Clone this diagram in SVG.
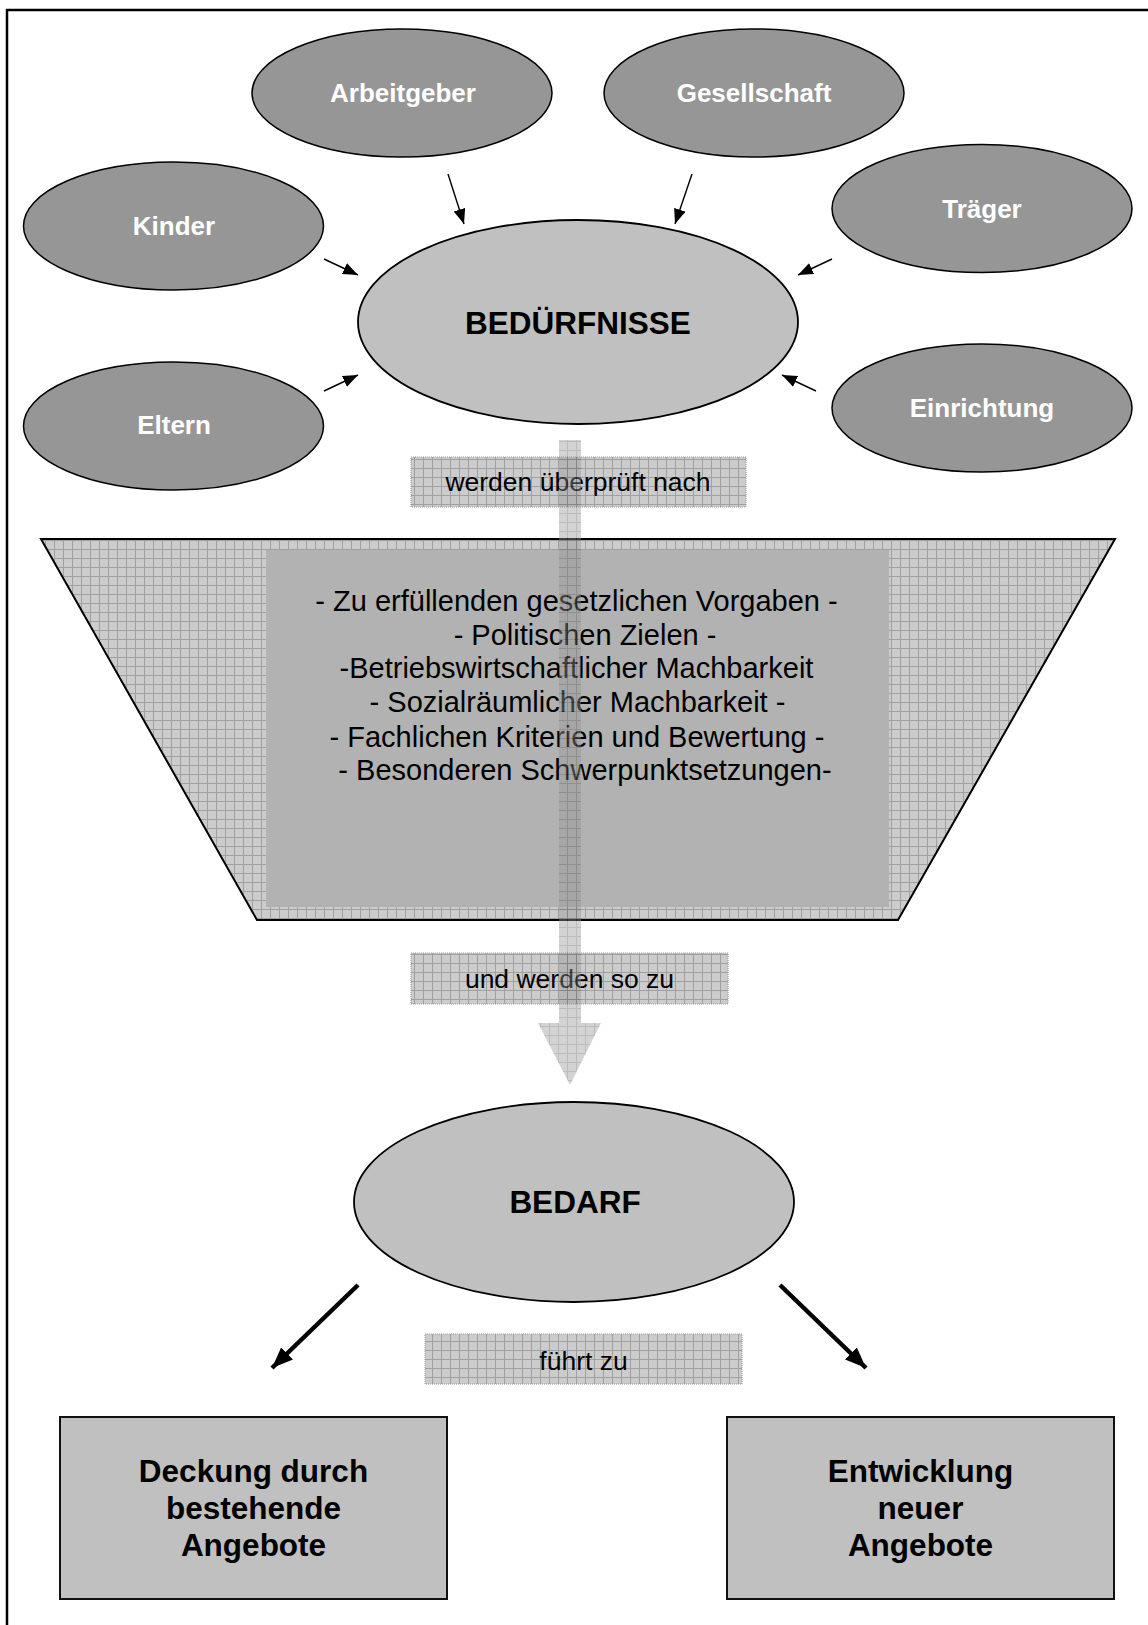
<svg xmlns="http://www.w3.org/2000/svg" width="1148" height="1625" viewBox="0 0 1148 1625">
  <defs>
    <pattern id="grid" width="9" height="9" patternUnits="userSpaceOnUse">
      <rect width="9" height="9" fill="#cccccc"/>
      <path d="M0 0.5H9M0.5 0V9" stroke="#a0a0a0" stroke-width="1" fill="none"/>
    </pattern>
    <pattern id="gridDark" width="9" height="9" patternUnits="userSpaceOnUse">
      <rect width="9" height="9" fill="#969696"/>
      <path d="M0 0.5H9M0.5 0V9" stroke="#5f5f5f" stroke-width="1" fill="none"/>
    </pattern>
    <marker id="headThin" markerUnits="userSpaceOnUse" markerWidth="16" markerHeight="13" refX="15" refY="6" orient="auto">
      <path d="M0,0 L15,6 L0,12 z" fill="#000"/>
    </marker>
    <marker id="headThick" markerUnits="userSpaceOnUse" markerWidth="22" markerHeight="18" refX="21" refY="8.5" orient="auto">
      <path d="M0,0 L21,8.5 L0,17 z" fill="#000"/>
    </marker>
  </defs>
  <style>
    .src { fill: #969696; stroke: #000; stroke-width: 1.5; }
    .main { fill: #c0c0c0; stroke: #000; stroke-width: 1.8; }
    .srcText { font-family: "Liberation Sans", Arial, sans-serif; font-weight: bold; font-size: 26px; fill: #fff; text-anchor: middle; }
    .mainText { font-family: "Liberation Sans", Arial, sans-serif; font-weight: bold; font-size: 31.5px; fill: #000; text-anchor: middle; }
    .label { fill: url(#grid); stroke: #9a9a9a; stroke-width: 1; stroke-dasharray: 1 1; }
    .labelText { font-family: "Liberation Sans", Arial, sans-serif; font-size: 26.5px; fill: #000; text-anchor: middle; }
    .listText { font-family: "Liberation Sans", Arial, sans-serif; font-size: 29px; fill: #000; text-anchor: middle; }
    .box { fill: #c0c0c0; stroke: #111; stroke-width: 2; }
    .thin { stroke: #000; stroke-width: 1.4; fill: none; marker-end: url(#headThin); }
    .thick { stroke: #000; stroke-width: 4.5; fill: none; marker-end: url(#headThick); }
  </style>

  <rect width="1148" height="1625" fill="#fff"/>

  <!-- frame -->
  <path d="M7 1625 V10 H1148" fill="none" stroke="#000" stroke-width="2.5"/>

  <g id="node-arbeitgeber">
    <ellipse class="src" cx="402" cy="93" rx="150" ry="64"/>
    <text class="srcText" x="403" y="102">Arbeitgeber</text>
  </g>
  <g id="node-gesellschaft">
    <ellipse class="src" cx="754" cy="93" rx="150" ry="64"/>
    <text class="srcText" x="754" y="102">Gesellschaft</text>
  </g>
  <g id="node-kinder">
    <ellipse class="src" cx="173.5" cy="226" rx="150" ry="64"/>
    <text class="srcText" x="174" y="235">Kinder</text>
  </g>
  <g id="node-traeger">
    <ellipse class="src" cx="982" cy="208.5" rx="150" ry="64"/>
    <text class="srcText" x="982" y="218">Träger</text>
  </g>
  <g id="node-eltern">
    <ellipse class="src" cx="173.5" cy="426" rx="150" ry="64"/>
    <text class="srcText" x="174" y="434">Eltern</text>
  </g>
  <g id="node-einrichtung">
    <ellipse class="src" cx="982" cy="408" rx="150" ry="64"/>
    <text class="srcText" x="982" y="417">Einrichtung</text>
  </g>

  <g id="node-beduerfnisse">
    <ellipse class="main" cx="578" cy="322" rx="220" ry="102"/>
    <text class="mainText" x="578" y="334">BEDÜRFNISSE</text>
  </g>

  <g id="node-filter">
    <polygon points="41,539 1115,539 898,920 257,920" fill="url(#grid)" stroke="#000" stroke-width="2"/>
    <rect x="266" y="550" width="623" height="357" fill="#b2b2b2"/>
    <text class="listText" x="576.5" y="611">- Zu erfüllenden gesetzlichen Vorgaben -</text>
    <text class="listText" x="585" y="645">- Politischen Zielen -</text>
    <text class="listText" x="576.5" y="678">-Betriebswirtschaftlicher Machbarkeit</text>
    <text class="listText" x="577.5" y="712">- Sozialräumlicher Machbarkeit -</text>
    <text class="listText" x="577" y="747">- Fachlichen Kriterien und Bewertung -</text>
    <text class="listText" x="585" y="780">- Besonderen Schwerpunktsetzungen-</text>
  </g>

  <g id="label-ueberprueft">
    <rect class="label" x="411" y="457" width="335" height="50"/>
    <text class="labelText" x="578" y="491">werden überprüft nach</text>
  </g>
  <g id="label-werden-so-zu">
    <rect class="label" x="411" y="953" width="317" height="51"/>
    <text class="labelText" x="569.5" y="988">und werden so zu</text>
  </g>
  <g id="label-fuehrt-zu">
    <rect class="label" x="425" y="1334" width="317" height="50"/>
    <text class="labelText" x="583.5" y="1370">führt zu</text>
  </g>

  <g id="node-bedarf">
    <ellipse class="main" cx="574" cy="1202" rx="220" ry="100"/>
    <text class="mainText" x="575" y="1213">BEDARF</text>
  </g>

  <g id="node-deckung">
    <rect class="box" x="60" y="1417" width="387" height="182"/>
    <text class="mainText" x="253.5" y="1482">Deckung durch</text>
    <text class="mainText" x="253.5" y="1519">bestehende</text>
    <text class="mainText" x="253.5" y="1556">Angebote</text>
  </g>
  <g id="node-entwicklung">
    <rect class="box" x="727" y="1417" width="387" height="182"/>
    <text class="mainText" x="920.5" y="1482">Entwicklung</text>
    <text class="mainText" x="920.5" y="1519">neuer</text>
    <text class="mainText" x="920.5" y="1556">Angebote</text>
  </g>

  <g id="connectors">
    <line class="thin" x1="448" y1="174" x2="464" y2="224"/>
    <line class="thin" x1="692" y1="174" x2="675" y2="224"/>
    <line class="thin" x1="324" y1="259" x2="358" y2="275"/>
    <line class="thin" x1="832" y1="259" x2="798" y2="275"/>
    <line class="thin" x1="324" y1="391" x2="358" y2="375"/>
    <line class="thin" x1="816" y1="391" x2="782" y2="375"/>
    <line class="thick" x1="358" y1="1285" x2="272" y2="1368"/>
    <line class="thick" x1="780" y1="1285" x2="866" y2="1368"/>
    <path id="flow-arrow" d="M559 440 H581 V1023 H601 L570 1085 L538 1023 H559 Z" fill="url(#gridDark)" opacity="0.42"/>
  </g>
</svg>
